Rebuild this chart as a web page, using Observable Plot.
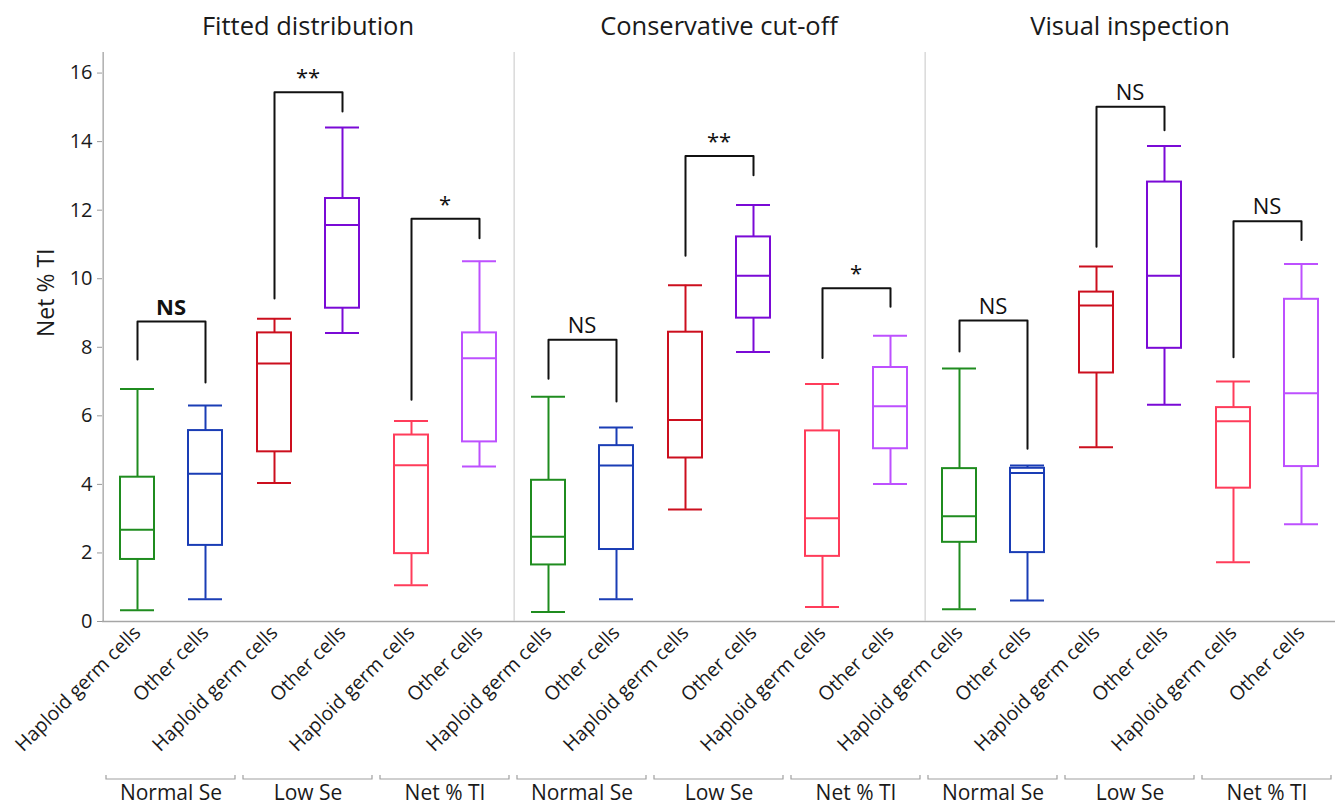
<!DOCTYPE html>
<html>
<head>
<meta charset="utf-8">
<script src="https://cdn.jsdelivr.net/npm/d3@7"></script>
<script src="https://cdn.jsdelivr.net/npm/@observablehq/plot@0.6"></script>
<style>
  html, body { margin: 0; padding: 0; background: #fff; }
  #chart svg { display: block; }
</style>
</head>
<body>
<div id="chart"></div>
<script>
// ---- data ----
const methods = ["Fitted distribution", "Conservative cut-off", "Visual inspection"];
const groups = ["Normal Se", "Low Se", "Net % TI"];
const cells = ["Haploid germ cells", "Other cells"];
const yTicks = [0, 2, 4, 6, 8, 10, 12, 14, 16];

// order: method -> group -> cell
const whiskerLow = [0.33, 0.65, 4.04, 8.42, 1.06, 4.52,  0.28, 0.65, 3.27, 7.86, 0.42, 4.01,  0.36, 0.61, 5.08, 6.32, 1.73, 2.84];
const quart1     = [1.81, 2.22, 4.95, 9.14, 1.98, 5.24,  1.65, 2.10, 4.77, 8.85, 1.90, 5.04,  2.31, 2.01, 7.25, 7.97, 3.89, 4.52];
const medians    = [2.68, 4.31, 7.53, 11.57, 4.56, 7.68, 2.47, 4.55, 5.88, 10.09, 3.01, 6.28, 3.07, 4.33, 9.22, 10.09, 5.84, 6.66];
const quart3     = [4.21, 5.57, 8.42, 12.34, 5.44, 8.42, 4.12, 5.13, 8.44, 11.22, 5.56, 7.41, 4.46, 4.47, 9.61, 12.82, 6.24, 9.40];
const whiskerHigh= [6.78, 6.30, 8.83, 14.41, 5.85, 10.51, 6.56, 5.66, 9.81, 12.15, 6.93, 8.34, 7.38, 4.55, 10.36, 13.87, 7.00, 10.43];

// significance brackets, order: method -> group
const bracketTop   = [8.75, 15.44, 11.75, 8.22, 13.58, 9.72, 8.78, 15.02, 11.68];
const bracketLeft  = [7.64, 9.42, 6.47,  7.08, 10.67, 7.69, 7.88, 10.93, 7.71];
const bracketRight = [6.97, 14.88, 11.18, 6.42, 13.02, 9.18, 5.04, 14.33, 11.13];
const bracketLabel = ["NS", "**", "*", "NS", "**", "*", "NS", "NS", "NS"];

const seriesColors = ["#1f8c1f", "#1a3db5", "#cc0f1e", "#7a0ad6", "#ff3c5a", "#bd50ff"];

// ---- layout ----
const W = 1337, H = 806, mL = 100, mR = 0, mT = 52, mB = 185;
const facetStep = (W - mL - mR) / (methods.length * groups.length);
const bandStep = facetStep / cells.length;
const FONT = "'Open Sans', 'Noto Sans', sans-serif";
const TXT = "#1a1a1a";

// ---- tables ----
const fkey = (m, g) => m + "|" + g;
const facetKeys = methods.flatMap(m => groups.map(g => fkey(m, g)));
const seriesKeys = groups.flatMap(g => cells.map(c => g + "|" + c));

const boxes = [];
let i = 0;
for (const m of methods) for (const g of groups) for (const c of cells) {
  boxes.push({fx: fkey(m, g), cell: c, series: g + "|" + c,
    lo: whiskerLow[i], q1: quart1[i], med: medians[i], q3: quart3[i], hi: whiskerHigh[i]});
  i++;
}
const brackets = [];
const bracketPts = [];
let j = 0;
for (const m of methods) for (const g of groups) {
  const k = fkey(m, g);
  brackets.push({fx: k, top: bracketTop[j], label: bracketLabel[j], bold: j === 0});
  bracketPts.push({fx: k, x: cells[0], y: bracketLeft[j]});
  bracketPts.push({fx: k, x: cells[0], y: bracketTop[j]});
  bracketPts.push({fx: k, x: cells[1], y: bracketTop[j]});
  bracketPts.push({fx: k, x: cells[1], y: bracketRight[j]});
  j++;
}
const panelStarts = methods.map((m, idx) => ({fx: fkey(m, groups[0]), first: idx === 0}));

const svg = Plot.plot({
  width: W, height: H,
  marginLeft: mL, marginRight: mR, marginTop: mT, marginBottom: mB,
  style: {fontFamily: FONT, color: TXT, background: "#fff"},
  fx: {domain: facetKeys, padding: 0},
  x: {domain: cells, paddingInner: 0.5, paddingOuter: 0.25},
  y: {domain: [0, 16.6]},
  color: {type: "ordinal", domain: seriesKeys, range: seriesColors},
  marks: [
    // baseline & panel separators
    Plot.ruleY([0], {stroke: "#a6a6a6", strokeWidth: 1.5}),
    Plot.ruleX(panelStarts, {fx: "fx", x: () => cells[0], dx: -bandStep / 2,
      stroke: d => d.first ? "#9a9a9a" : "#d0d0d0", strokeWidth: 1.2}),
    // axes
    Plot.axisY({ticks: yTicks, tickSize: 5, tickPadding: 5, fontSize: 20, label: null, stroke: "#9a9a9a", fill: TXT}),
    Plot.text(["Net % TI"], {fx: () => facetKeys[0], frameAnchor: "left", rotate: -90, dx: -56,
      fontSize: 23, fill: TXT, text: d => d}),
    Plot.axisX({tickRotate: -45, tickSize: 0, tickPadding: 8, fontSize: 19.5, label: null, fill: TXT}),
    Plot.axisFx({anchor: "bottom", tickSize: 0, tickPadding: 164, fontSize: 21, label: null, fill: TXT,
      tickFormat: d => d.split("|")[1]}),
    // panel titles
    Plot.text(methods, {fx: m => fkey(m, groups[1]), frameAnchor: "top", lineAnchor: "middle", dy: -26,
      text: d => d, fontSize: 25.5, fill: TXT}),
    // box plots
    Plot.ruleX(boxes, {fx: "fx", x: "cell", y1: "lo", y2: "hi", stroke: "series", strokeWidth: 2}),
    Plot.barY(boxes, {fx: "fx", x: "cell", y1: "q1", y2: "q3", fill: "white", stroke: "series", strokeWidth: 2}),
    Plot.tickY(boxes, {fx: "fx", x: "cell", y: "med", stroke: "series", strokeWidth: 2}),
    Plot.tickY(boxes, {fx: "fx", x: "cell", y: "lo", stroke: "series", strokeWidth: 2}),
    Plot.tickY(boxes, {fx: "fx", x: "cell", y: "hi", stroke: "series", strokeWidth: 2}),
    // significance brackets
    Plot.line(bracketPts, {fx: "fx", x: "x", y: "y", z: "fx", stroke: "#111", strokeWidth: 2}),
    Plot.text(brackets.filter(d => !d.bold), {fx: "fx", y: "top", text: "label", dy: -14, fontSize: 22, fill: "#111"}),
    Plot.text(brackets.filter(d => d.bold), {fx: "fx", y: "top", text: "label", dy: -14, fontSize: 22, fill: "#111",
      fontWeight: "bold"})
  ]
});

document.getElementById("chart").appendChild(svg);

// group brackets under the group labels, placed with the fx scale
const fxScale = svg.scale("fx");
const bw = fxScale.bandwidth;
const bracketY = H - 27;
d3.select(svg).append("g").attr("fill", "none").attr("stroke", "#a0a0a0").attr("stroke-width", 1.2)
  .selectAll("path").data(facetKeys).join("path")
  .attr("d", k => {
    const x0 = fxScale.apply(k) + 4, x1 = fxScale.apply(k) + bw - 4;
    return `M${x0},${bracketY - 4}V${bracketY}H${x1}V${bracketY - 4}`;
  });
</script>
</body>
</html>
